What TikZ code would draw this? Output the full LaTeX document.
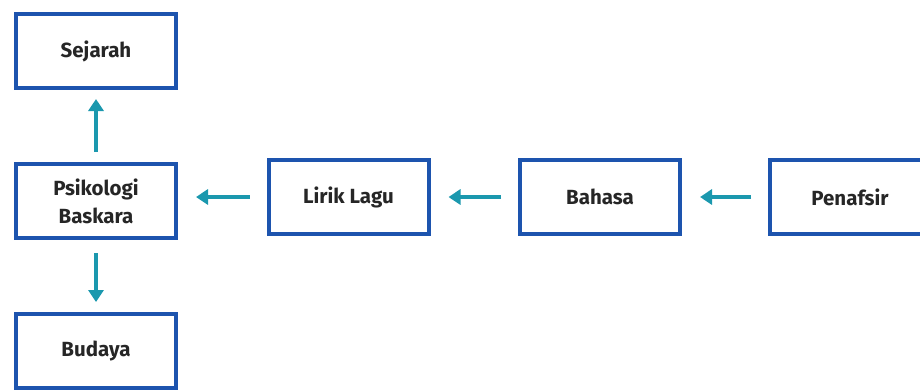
\documentclass[tikz,border=0pt]{standalone}
\usepackage{fontspec}
\setmainfont{Fira Sans}
\usetikzlibrary{arrows.meta}

\begin{document}
\begin{tikzpicture}[x=1pt,y=-1pt,
    kotak/.style={draw=boxblue, line width=4pt, fill=white,
        minimum width=160pt, minimum height=74pt, align=center,
        font=\fontsize{20.5}{28}\selectfont\bfseries, text=black!85},
    panah/.style={draw=arrowteal, line width=3.5pt,
        -{Triangle[width=15pt,length=12pt]}}]
    % 颜色
    \definecolor{boxblue}{HTML}{1D54AE}
    \definecolor{arrowteal}{HTML}{1B98AE}

    \useasboundingbox (0,0) rectangle (920,389);

    % 左列方框
    \node[kotak] (sejarah) at (96,51) {Sejarah};
    \node[kotak] (psikologi) at (96,201) {Psikologi\\Baskara};
    \node[kotak] (budaya) at (96,351) {Budaya};

    % 横排方框
    \node[kotak] (lirik) at (348.5,197) {Lirik Lagu};
    \node[kotak] (bahasa) at (600,197) {Bahasa};
    \node[kotak] (penafsir) at (850,197) {Penafsir};

    % 箭头
    \draw[panah, shorten <=17pt, shorten >=18pt] (penafsir.west) -- (bahasa.east);
    \draw[panah, shorten <=17pt, shorten >=18pt] (bahasa.west) -- (lirik.east);
    \draw[panah, shorten <=17pt, shorten >=18pt] (lirik.west) -- (lirik.west -| psikologi.east);
    \draw[panah, shorten <=10pt, shorten >=9pt] (psikologi.north) -- (sejarah.south);
    \draw[panah, shorten <=13pt, shorten >=10pt] (psikologi.south) -- (budaya.north);
\end{tikzpicture}
\end{document}
